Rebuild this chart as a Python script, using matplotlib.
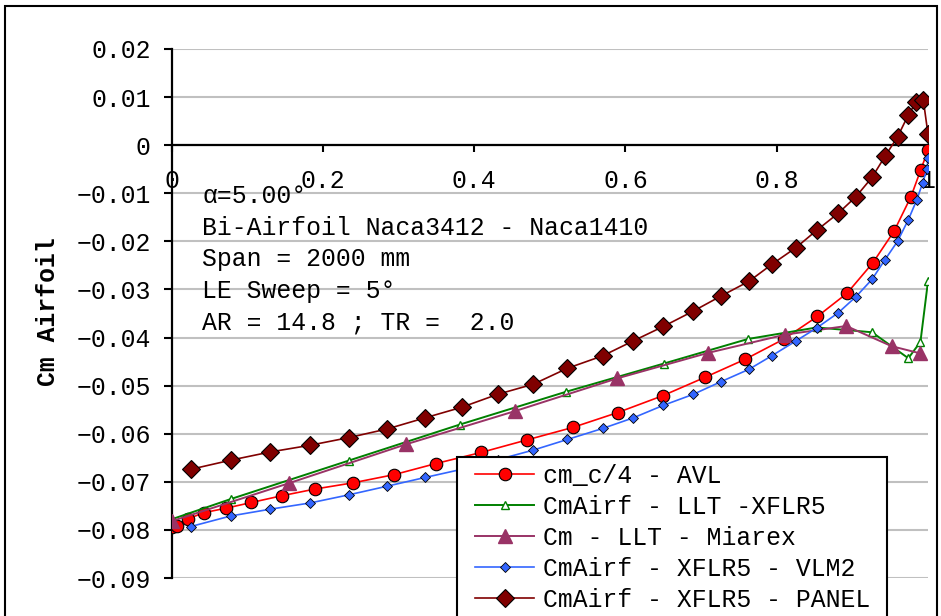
import matplotlib
matplotlib.use("Agg")
import matplotlib.pyplot as plt
from matplotlib.patches import Rectangle

plt.rcParams['font.family'] = ['Liberation Mono', 'DejaVu Sans']

# spanwise position (y/b) and Cm values
x_avl = [0.0, 0.0069, 0.0215, 0.0432, 0.0716, 0.1056, 0.1457, 0.1897, 0.2403,
         0.2945, 0.3496, 0.4091, 0.4695, 0.5303, 0.5898, 0.6493, 0.7048, 0.7586,
         0.8097, 0.8539, 0.8929, 0.9269, 0.9551, 0.9775, 0.9905, 1.0]
cm_avl = [-0.0794, -0.0791, -0.0777, -0.0764, -0.0755, -0.0743, -0.0729, -0.0715,
          -0.0702, -0.0685, -0.0662, -0.0639, -0.0613, -0.0587, -0.0556, -0.0521,
          -0.0483, -0.0445, -0.0403, -0.0356, -0.0308, -0.0245, -0.0179, -0.0107,
          -0.0051, -0.0010]

x_llt = [0.0, 0.078, 0.234, 0.381, 0.521, 0.651, 0.762, 0.853, 0.926, 0.974, 0.990, 1.0]
cm_llt = [-0.0778, -0.0736, -0.0656, -0.0581, -0.0513, -0.0454, -0.0403, -0.0379,
          -0.0389, -0.0443, -0.0409, -0.0283]

x_miarex = [0.0, 0.155, 0.310, 0.454, 0.589, 0.709, 0.811, 0.892, 0.952, 0.990]
cm_miarex = [-0.0782, -0.0703, -0.0622, -0.0553, -0.0485, -0.0432, -0.0394, -0.0376,
             -0.0418, -0.0433]

x_vlm = [0.0254, 0.0783, 0.1302, 0.1831, 0.2346, 0.2853, 0.3351, 0.3836, 0.4312,
         0.4783, 0.5232, 0.5700, 0.6104, 0.6501, 0.6898, 0.7260, 0.7634, 0.7934,
         0.8255, 0.8529, 0.8810, 0.9048, 0.9260, 0.9432, 0.9597, 0.9740, 0.9851,
         0.9930, 0.9987, 1.0]
cm_vlm = [-0.0793, -0.0771, -0.0757, -0.0744, -0.0727, -0.0709, -0.0691, -0.0674,
          -0.0654, -0.0634, -0.0612, -0.0589, -0.0567, -0.0541, -0.0518, -0.0492,
          -0.0466, -0.0438, -0.0407, -0.0380, -0.0349, -0.0315, -0.0279, -0.0238,
          -0.0200, -0.0155, -0.0114, -0.0078, -0.0049, -0.0027]

x_panel = [0.0254, 0.0783, 0.1302, 0.1831, 0.2346, 0.2853, 0.3351, 0.3836, 0.4312,
           0.4783, 0.5232, 0.5700, 0.6104, 0.6501, 0.6898, 0.7260, 0.7634, 0.7934,
           0.8255, 0.8529, 0.8810, 0.9048, 0.9260, 0.9432, 0.9597, 0.9740, 0.9841,
           0.9938, 1.0]
cm_panel = [-0.0674, -0.0655, -0.0638, -0.0624, -0.0608, -0.0590, -0.0567, -0.0545,
            -0.0518, -0.0497, -0.0464, -0.0438, -0.0407, -0.0377, -0.0345, -0.0314,
            -0.0283, -0.0248, -0.0213, -0.0177, -0.0142, -0.0107, -0.0067, -0.0023,
            0.0017, 0.0063, 0.0089, 0.0094, 0.0023]

labels = ["cm_c/4 - AVL", "CmAirf - LLT -XFLR5", "Cm - LLT - Miarex",
          "CmAirf - XFLR5 - VLM2", "CmAirf - XFLR5 - PANEL"]

x_ticks = [0, 0.2, 0.4, 0.6, 0.8, 1.0]
x_ticklabels = ["0", "0.2", "0.4", "0.6", "0.8", "1"]
y_ticks = [0.02, 0.01, 0, -0.01, -0.02, -0.03, -0.04, -0.05, -0.06, -0.07, -0.08, -0.09]
y_ticklabels = ["0.02", "0.01", "0", "\u22120.01", "\u22120.02", "\u22120.03", "\u22120.04",
                "\u22120.05", "\u22120.06", "\u22120.07", "\u22120.08", "\u22120.09"]

info_lines = ["\u03b1=5.00\u00b0", "Bi-Airfoil Naca3412 - Naca1410", "Span = 2000 mm",
              "LE Sweep = 5\u00b0", "AR = 14.8 ; TR =  2.0"]

fs = 17.8
W, H = 941, 616

fig = plt.figure(figsize=(9.41, 6.16), dpi=100)
ax = fig.add_axes([171.5 / W, 1 - 578 / H, (928 - 171.5) / W, (578 - 49) / H])

# outer chart frame
fig.patches.append(Rectangle((5 / W, -0.1), 932 / W, 1.1 - 6 / H,
                             transform=fig.transFigure, fill=False,
                             edgecolor='black', linewidth=1.5))

ax.plot(x_avl, cm_avl, color='#FF0000', lw=1.2, marker='o', ms=9,
        mfc='#FF0000', mec='black', mew=0.8, label=labels[0], zorder=3)
ax.plot(x_llt, cm_llt, color='#008000', lw=1.4, marker='^', ms=6,
        mfc='white', mec='#008000', mew=1.0, label=labels[1], zorder=3)
ax.plot(x_miarex, cm_miarex, color='#993366', lw=1.4, marker='^', ms=10,
        mfc='#993366', mec='#993366', label=labels[2], zorder=3)
ax.plot(x_vlm, cm_vlm, color='#3366FF', lw=1.2, marker='D', ms=5,
        mfc='#3366FF', mec='black', mew=0.6, label=labels[3], zorder=3)
ax.plot(x_panel, cm_panel, color='#800000', lw=1.2, marker='D', ms=9,
        mfc='#800000', mec='black', mew=0.8, label=labels[4], zorder=3)

ax.spines['top'].set_visible(False)
ax.spines['right'].set_visible(False)
ax.spines['bottom'].set_position(('data', 0))
ax.spines['bottom'].set_linewidth(1.6)
ax.spines['left'].set_linewidth(1.6)

ax.set_xlim(0, 1)
ax.set_ylim(-0.09, 0.02)
ax.set_xticks(x_ticks)
ax.set_xticklabels(x_ticklabels)
ax.set_yticks(y_ticks)
ax.set_yticklabels(y_ticklabels)
ax.tick_params(axis='x', direction='out', length=5, width=1.5, pad=12, labelsize=fs)
ax.tick_params(axis='y', direction='out', length=6, width=1.5, pad=9, labelsize=fs)

ax.yaxis.grid(True, color='#C0C0C0', lw=1.5)
ax.set_axisbelow(True)

fig.text(48 / W, 1 - 312 / H, "Cm Airfoil", rotation=90, fontsize=fs,
         fontweight='bold', ha='center', va='center')

for i, line in enumerate(info_lines):
    fig.text(202 / W, 1 - (196 + 31.7 * i) / H, line,
             fontsize=fs, ha='left', va='center', zorder=4)

# legend frame drawn separately so the box padding can match the original
fig.patches.append(Rectangle((457 / W, -0.1), (887 - 457) / W, 0.1 + 1 - 457 / H,
                             transform=fig.transFigure, facecolor='white',
                             edgecolor='black', linewidth=1.5, zorder=9))
leg = fig.legend(loc='upper left', bbox_to_anchor=(475 / W, 1 - 464 / H),
                 fontsize=fs, frameon=False, borderaxespad=0, borderpad=0,
                 handlelength=2.4, handletextpad=0.35, labelspacing=0.28)
leg.set_zorder(10)

fig.savefig("out.png", dpi=100)
